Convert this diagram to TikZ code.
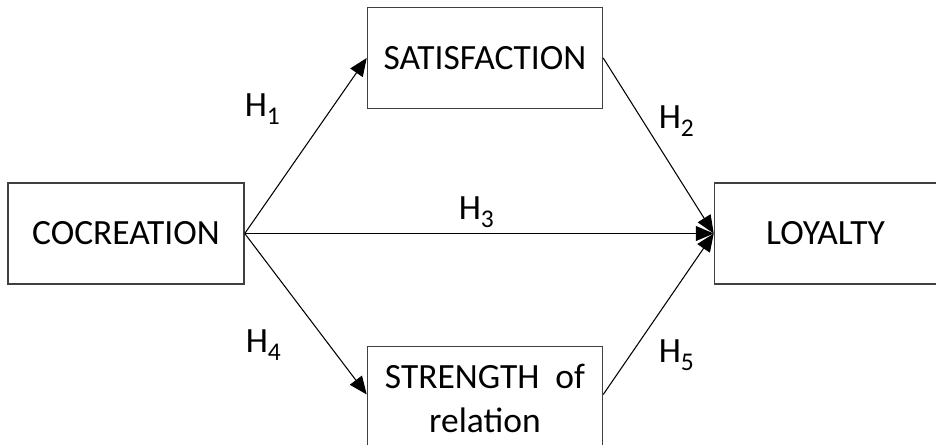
\documentclass[tikz,border=0pt]{standalone}
\usepackage{fontspec}
\setmainfont{Carlito}
\usetikzlibrary{arrows.meta,positioning}

\newcommand{\hyp}[1]{H\raisebox{-0.25em}{\fontsize{14.5}{15}\selectfont #1}}

\begin{document}
\begin{tikzpicture}[
  node distance=1.46cm and 2.44cm,
  varnode/.style={rectangle, draw=black!75, line width=0.85pt, minimum width=4.7cm,
                  minimum height=2.02cm, align=center, inner sep=0pt,
                  font=\fontsize{20.2}{24.8}\selectfont},
  hyplabel/.style={anchor=base west, inner sep=0pt, font=\fontsize{20.2}{24}\selectfont},
  link/.style={-{Triangle[length=0.36cm, width=0.3cm]}, line width=0.6pt, black}
]

\clip (0,0) rectangle (18.72,-8.88);

% Constructs
\node[varnode, minimum width=4.72cm] (coc) at (2.52,-4.67) {COCREATION};
\node[varnode, above right=1.46cm and 2.44cm of coc] (sat) {SATISFACTION};
\node[varnode, below right=1.22cm and 2.44cm of coc, minimum height=2.08cm] (str)
  {STRENGTH\hspace{0.45em}of\\relation};
\node[varnode, right=9.38cm of coc, minimum width=4.44cm] (loy) {LOYALTY};

% Paths
\draw[link] (coc.east) -- (sat.west);
\draw[link] (coc.east) -- (loy.west);
\draw[link] (coc.east) -- ([yshift=0.08cm]str.west);
\draw[link] (sat.east) -- (loy.west);
\draw[link] ([yshift=0.08cm]str.east) -- (loy.west);

% Hypotheses
\node[hyplabel] (h1) at (4.89,-2.32) {\hyp{1}};
\node[hyplabel] (h2) at (13.17,-2.56) {\hyp{2}};
\node[hyplabel] (h3) at (9.17,-4.38) {\hyp{3}};
\node[hyplabel] (h4) at (4.91,-7.04) {\hyp{4}};
\node[hyplabel] (h5) at (13.17,-7.24) {\hyp{5}};

\end{tikzpicture}
\end{document}
